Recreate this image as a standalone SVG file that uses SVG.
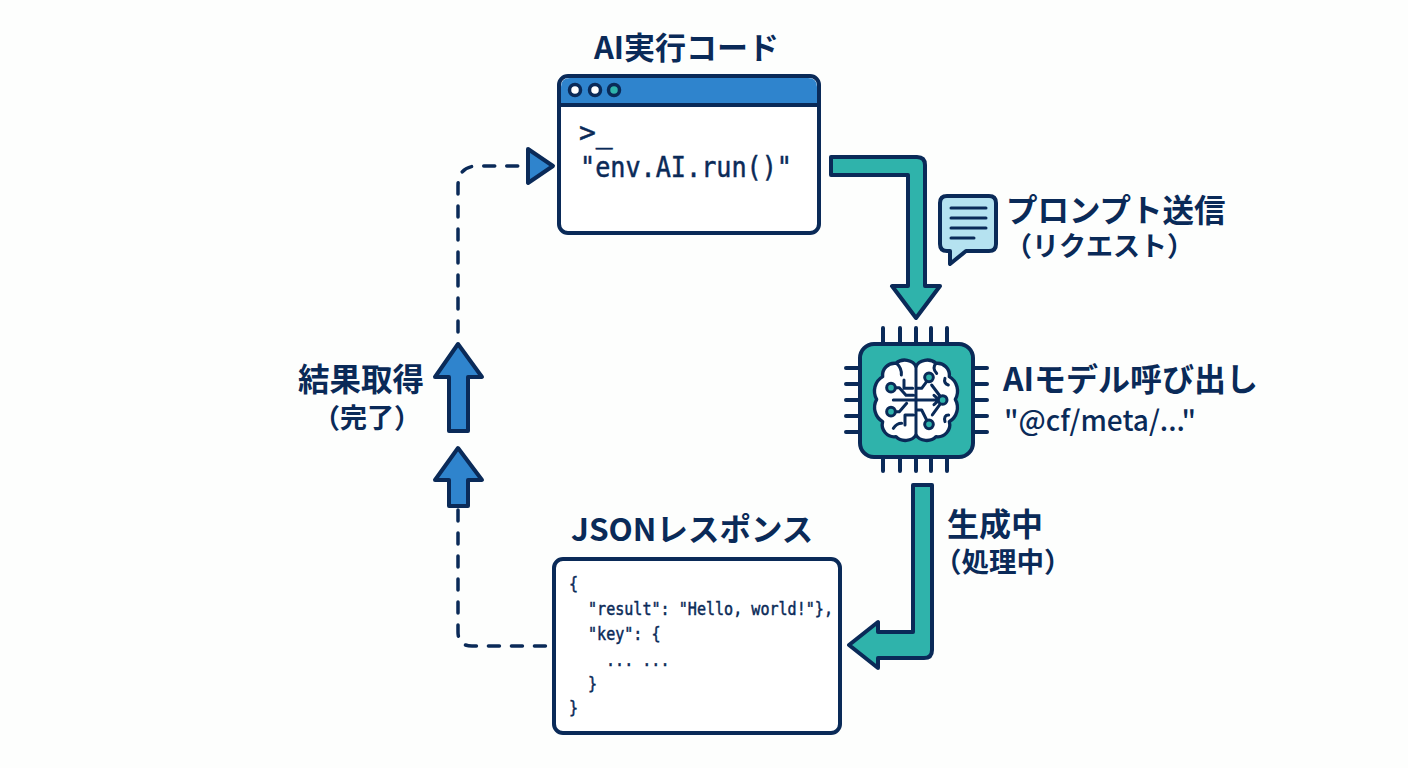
<svg xmlns="http://www.w3.org/2000/svg" width="1408" height="768" viewBox="0 0 1408 768">
<defs><style>
text{fill:#0a2a58;font-family:"Noto Sans CJK JP","Noto Sans",sans-serif}
.t{font-size:32px;font-weight:700}
.s{font-size:27px;font-weight:700}
.m{font-family:"DejaVu Sans Mono","Liberation Mono",monospace;stroke:#0a2a58;stroke-width:.5}
.box{fill:#fff;stroke:#0a2a58;stroke-width:4}
.teal{fill:#2fb3ab;stroke:#0a2a58;stroke-width:4;stroke-linejoin:round}
.blue{fill:#2f84cd;stroke:#0a2a58;stroke-width:4;stroke-linejoin:round}
.dash{fill:none;stroke:#0a2a58;stroke-width:3.5;stroke-linecap:round;stroke-dasharray:11 12}
.wire{fill:none;stroke:#0a2a58;stroke-width:9;stroke-linecap:round;stroke-linejoin:round}
.pin{fill:none;stroke:#0a2a58;stroke-width:4;stroke-linecap:round}
.node{fill:#2fb3ab;stroke:#0a2a58;stroke-width:9}
</style></defs>
<rect width="1408" height="768" fill="#fdfefd"/>
<g id="connectors">
<path class="dash" d="M458 332V186Q458 166 478 166H525"/>
<path class="blue" d="M528 149L553 166L528 183Z"/>
<path class="dash" d="M458 510V632Q458 646 472 646H552"/>
<path class="blue" d="M458 344L482 377H468V431H449V377H435Z"/>
<path class="blue" d="M458 448L482 480H468V506H449V480H435Z"/>
<path class="teal" d="M831 157H917Q925 157 925 165V286H940L916 318L892 286H908V175H831Z"/>
<path class="teal" d="M913 485H932V650Q932 658 924 658H878V668L849 645L878 622V632H913Z"/>
</g>
<g id="code-window">
<rect class="box" x="559" y="76" width="260" height="157" rx="9"/>
<path d="M561 105V87Q561 78 570 78H808Q817 78 817 87V105Z" fill="#2f84cd"/>
<path d="M559 105H819" stroke="#0a2a58" stroke-width="4"/>
<circle cx="575" cy="90" r="5.5" fill="#fff" stroke="#0a2a58" stroke-width="3.5"/>
<circle cx="595" cy="90" r="5.5" fill="#fff" stroke="#0a2a58" stroke-width="3.5"/>
<circle cx="614" cy="90" r="5.5" fill="#2fb3ab" stroke="#0a2a58" stroke-width="3.5"/>
<text class="m" x="579" y="142" font-size="28">&gt;_</text>
<text class="m" x="580" y="177" font-size="28" textLength="212" lengthAdjust="spacingAndGlyphs">"env.AI.run()"</text>
<text class="t" x="594" y="59" style="font-size:31px">AI実行コード</text>
</g>
<g id="prompt-label">
<path d="M947 196H989Q996 196 996 203V244Q996 251 989 251H966L950 264V251H947Q940 251 940 244V203Q940 196 947 196Z" fill="#b5e2f0" stroke="#0a2a58" stroke-width="4" stroke-linejoin="round"/>
<path class="pin" d="M951 208H986M951 218H986M951 228H986M951 238H974" style="stroke-width:3"/>
<text class="t" x="1006" y="222" style="font-size:31.5px">プロンプト送信</text>
<text class="s" x="1005" y="256">（リクエスト）</text>
</g>
<g id="ai-model">
<path class="pin" d="M883 328V343M900 328V343M916 328V343M931 328V343M947 328V343M883 457V471M900 457V471M916 457V471M931 457V471M947 457V471M846 368H860M846 384H860M846 400H860M846 416H860M846 432H860M973 368H987M973 384H987M973 400H987M973 416H987M973 432H987"/>
<rect class="teal" x="860" y="344" width="113" height="113" rx="14"/>
<g id="brain" transform="translate(830 320) scale(.3333)">
<path d="M258 140A35 28 0 0 0 198 130A36 36 0 0 0 158 170A50 50 0 0 0 140 238A50 50 0 0 0 158 305A36 36 0 0 0 198 350A35 28 0 0 0 258 345A35 28 0 0 0 318 350A36 36 0 0 0 358 305A50 50 0 0 0 376 238A50 50 0 0 0 358 170A36 36 0 0 0 318 130A35 28 0 0 0 258 140Z" fill="#fff" stroke="#0a2a58" stroke-width="10" stroke-linejoin="round"/>
<path class="wire" d="M258 140V345M190 240H325M312 226L328 240L312 254M195 203H208L228 226H250M222 180V205H248M195 275H208L230 250M225 315V285H250M200 130Q216 145 214 165M190 325Q200 310 215 310M290 185L275 205H258M305 195L330 228M330 253L307 285M290 300L275 270H258M318 130Q305 145 320 160M355 195Q340 190 345 175M356 285Q340 285 345 305"/>
<circle class="node" cx="183" cy="203" r="13"/>
<circle class="node" cx="183" cy="275" r="13"/>
<circle class="node" cx="297" cy="172" r="13"/>
<circle class="node" cx="338" cy="240" r="13"/>
<circle class="node" cx="297" cy="313" r="13"/>
</g>
<text class="t" x="1003" y="391">AIモデル呼び出し</text>
<text class="s" x="1004" y="431" style="font-size:28px;font-weight:500">"@cf/meta/..."</text>
</g>
<g id="generating-label">
<text class="t" x="947" y="536">生成中</text>
<text class="s" x="934" y="572" style="font-size:27.5px">（処理中）</text>
</g>
<g id="result-label">
<text class="t" x="298" y="391" style="font-size:31.5px">結果取得</text>
<text class="s" x="313" y="428">（完了）</text>
</g>
<g id="json-response">
<rect class="box" x="554" y="559" width="286" height="174" rx="9"/>
<text class="m" font-size="18" x="569" y="590" textLength="9.1" lengthAdjust="spacingAndGlyphs">{</text>
<text class="m" font-size="18" x="588" y="615" textLength="245" lengthAdjust="spacingAndGlyphs">"result": "Hello, world!"},</text>
<text class="m" font-size="18" x="588" y="640" textLength="72.6" lengthAdjust="spacingAndGlyphs">"key": {</text>
<text class="m" font-size="18" x="606" y="666" textLength="63.5" lengthAdjust="spacingAndGlyphs">... ...</text>
<text class="m" font-size="18" x="588" y="690" textLength="9.1" lengthAdjust="spacingAndGlyphs">}</text>
<text class="m" font-size="18" x="569" y="714" textLength="9.1" lengthAdjust="spacingAndGlyphs">}</text>
<text class="t" x="571" y="541" style="font-size:31.5px">JSONレスポンス</text>
</g>
</svg>
